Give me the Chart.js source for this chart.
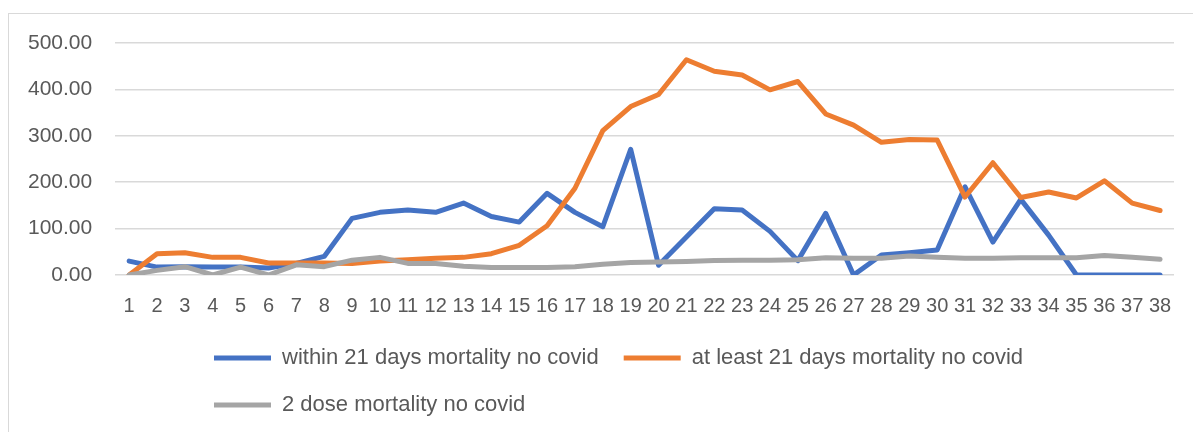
<!DOCTYPE html>
<html>
<head>
<meta charset="utf-8">
<title>Mortality no covid</title>
<script src="https://cdn.jsdelivr.net/npm/chart.js@4/dist/chart.umd.min.js"></script>
<style>
    body { margin: 0; background: #fff; }
    .frame { position: absolute; left: 8px; top: 13px; width: 1300px; height: 600px; border: 1.5px solid #d9d9d9; }
    .wrap { position: absolute; left: 0; top: 0; width: 1193px; height: 432px; }
</style>
</head>
<body>
<div class="frame"></div>
<div class="wrap"><canvas id="mortalityChart"></canvas></div>
<script>
const weeks = ['1', '2', '3', '4', '5', '6', '7', '8', '9', '10', '11', '12', '13', '14', '15', '16', '17', '18', '19',
    '20', '21', '22', '23', '24', '25', '26', '27', '28', '29', '30', '31', '32', '33', '34', '35', '36', '37', '38'];

const within21 = [30, 17, 18, 17, 17, 15, 25, 40, 122, 135, 140, 135, 155, 126, 114, 176, 135, 104, 271, 21,
    82, 143, 140, 94, 31, 133, 0, 43, 48, 54, 190, 71, 163, 86, 0, 0, 0, 0];

const atLeast21 = [0, 46, 48, 38, 38, 26, 26, 26, 25, 30, 33, 36, 38, 46, 64, 106, 187, 311, 363, 389,
    464, 439, 431, 399, 417, 347, 323, 286, 292, 291, 168, 242, 167, 179, 166, 203, 155, 139];

const twoDose = [0, 10, 18, 0, 17, 0, 22, 18, 32, 38, 25, 25, 19, 16, 16, 16, 18, 23, 27, 28,
    29, 31, 32, 32, 33, 37, 36, 36, 41, 38, 36, 36, 37, 37, 37, 42, 38, 34];

const yTicks = [0, 100, 200, 300, 400, 500];

Chart.defaults.font.family = "'Liberation Sans', Arial, sans-serif";
Chart.defaults.color = '#595959';

// excel puts the legend block under the plot, left of centre
const legendShift = {
    id: 'legendShift',
    afterLayout(chart) {
        chart.legend.left += 184;
        chart.legend.top -= 15;
        chart.legend.bottom -= 15;
    }
};

function line(label, data, color, order) {
    return {
        label: label,
        data: data,
        borderColor: color,
        backgroundColor: color,
        borderWidth: 5,
        borderCapStyle: 'round',
        borderJoinStyle: 'round',
        pointRadius: 0,
        tension: 0,
        fill: false,
        order: order
    };
}

const ctx = document.getElementById('mortalityChart').getContext('2d');

window.myChart = new Chart(ctx, {
    type: 'line',
    data: {
        labels: weeks,
        datasets: [
            line('within 21 days mortality no covid', within21, '#4472C4', 3),
            line('at least 21 days mortality no covid', atLeast21, '#ED7D31', 2),
            line('2 dose mortality no covid', twoDose, '#A5A5A5', 1)
        ]
    },
    options: {
        responsive: true,
        maintainAspectRatio: false,
        animation: false,
        layout: { padding: { left: 5, right: 19, top: 43, bottom: 0 } },
        plugins: {
            legend: {
                position: 'bottom',
                align: 'start',
                maxWidth: 1000,
                maxHeight: 95,
                labels: {
                    usePointStyle: true,
                    pointStyle: 'line',
                    pointStyleWidth: 57,
                    padding: 25,
                    color: '#595959',
                    font: { size: 22 },
                    sort: (a, b) => a.datasetIndex - b.datasetIndex
                }
            },
            tooltip: { enabled: false }
        },
        scales: {
            x: {
                offset: true,
                grid: { display: false, drawTicks: false },
                border: { display: false },
                ticks: {
                    autoSkip: false,
                    maxRotation: 0,
                    padding: 19,
                    color: '#595959',
                    font: { size: 20 }
                }
            },
            y: {
                min: 0,
                max: 500,
                afterBuildTicks: axis => { axis.ticks = yTicks.map(v => ({ value: v })); },
                grid: { color: '#d9d9d9', lineWidth: 1.5, drawTicks: false },
                border: { display: false },
                ticks: {
                    padding: 23,
                    color: '#595959',
                    font: { size: 21 },
                    callback: value => value.toFixed(2)
                }
            }
        }
    },
    plugins: [legendShift]
});
</script>
</body>
</html>
